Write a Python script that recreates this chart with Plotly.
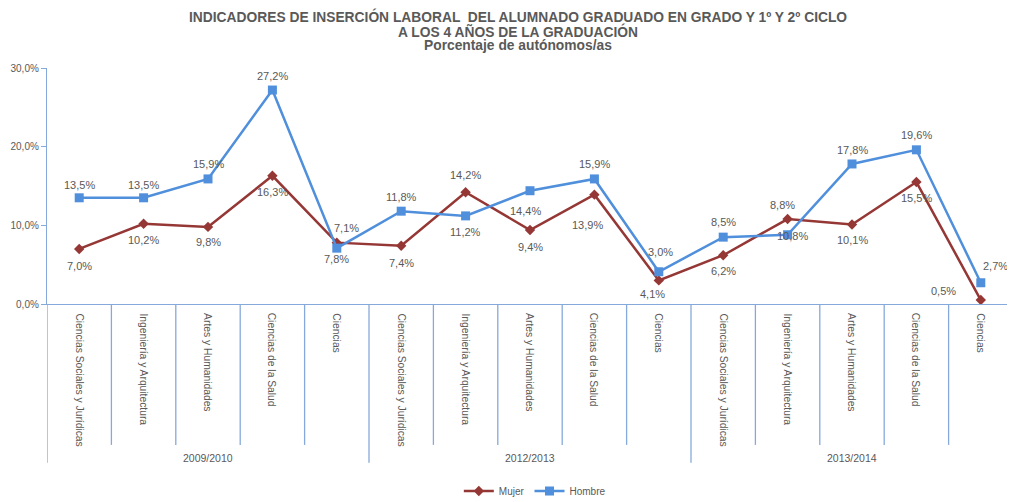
import plotly.graph_objects as go

years = ["2009/2010", "2012/2013", "2013/2014"]
areas = ["Ciencias Sociales y Jurídicas", "Ingeniería y Arquitectura",
         "Artes y Humanidades", "Ciencias de la Salud", "Ciencias"]
mujer = [7.0, 10.2, 9.8, 16.3, 7.8, 7.4, 14.2, 9.4, 13.9, 3.0, 6.2, 10.8, 10.1, 15.5, 0.5]
hombre = [13.5, 13.5, 15.9, 27.2, 7.1, 11.8, 11.2, 14.4, 15.9, 4.1, 8.5, 8.8, 17.8, 19.6, 2.7]
y_ticks = [0, 10, 20, 30]

# label offsets (styling only: px shifts of each data label from its point)
h_off = [(0, 13), (0, 13), (0, 15), (0, 14), (10, 20), (0, 14), (0, -16), (-5, -20),
         (0, 15), (-6, -22), (0, 15), (-5, 30), (0, 14), (0, 15), (15, 17)]
m_off = [(0, -17), (0, -16), (0, -15), (0, -16), (0, -16), (0, -17), (0, 17), (0, -17),
         (-7, -30), (2, 28), (0, -16), (5, -17), (0, -15), (0, -16), (-37, 9)]

cats = [a for _ in years for a in areas]
xs = list(range(len(cats)))

RED = "#953735"
BLUE = "#4F8FDB"
AXIS = "#86A9DB"
GRAY = "#595959"
FONT = "Liberation Sans"

fig = go.Figure()
fig.add_trace(go.Scatter(x=xs, y=mujer, name="Mujer", mode="lines+markers",
                         line=dict(color=RED, width=2.5),
                         marker=dict(symbol="diamond", size=8, color=RED), cliponaxis=False))
fig.add_trace(go.Scatter(x=xs, y=hombre, name="Hombre", mode="lines+markers",
                         line=dict(color=BLUE, width=2.5),
                         marker=dict(symbol="square", size=9, color=BLUE), cliponaxis=False))

def fmt(v):
    return f"{v:.1f}".replace(".", ",") + "%"

ann = []
for i, (v, o) in enumerate(zip(hombre, h_off)):
    ann.append(dict(x=i, y=v, xref="x", yref="y", text=fmt(v), showarrow=False,
                    xshift=o[0], yshift=o[1], font=dict(size=11, color=GRAY, family=FONT)))
for i, (v, o) in enumerate(zip(mujer, m_off)):
    ann.append(dict(x=i, y=v, xref="x", yref="y", text=fmt(v), showarrow=False,
                    xshift=o[0], yshift=o[1], font=dict(size=11, color=GRAY, family=FONT)))

# category labels (rotated)
for i, c in enumerate(cats):
    ann.append(dict(x=i, y=-0.03, xref="x", yref="paper", text=c, textangle=90,
                    showarrow=False, xanchor="center", yanchor="top",
                    font=dict(size=10.3, color=GRAY, family=FONT)))
# group labels
n = len(areas)
for g, yr in enumerate(years):
    ann.append(dict(x=g * n + (n - 1) / 2, y=-0.652, xref="x", yref="paper", text=yr,
                    showarrow=False, xanchor="center", yanchor="middle",
                    font=dict(size=10.5, color=GRAY, family=FONT)))

# title
titles = [("INDICADORES DE INSERCIÓN LABORAL  DEL ALUMNADO GRADUADO EN GRADO Y 1º Y 2º CICLO", 1.217),
          ("A LOS 4 AÑOS DE LA GRADUACIÓN", 1.155),
          ("Porcentaje de autónomos/as", 1.095)]
for t, yy in titles:
    ann.append(dict(x=0.488, y=yy, xref="paper", yref="paper", text=f"<b>{t}</b>",
                    showarrow=False, xanchor="center", yanchor="middle",
                    font=dict(size=13.8, color=GRAY, family=FONT)))

shapes = []
for k in range(len(cats) + 1):
    xb = k - 0.5
    bottom = -0.673 if k % n == 0 else -0.597
    shapes.append(dict(type="line", xref="x", yref="paper", x0=xb, x1=xb, y0=0, y1=bottom,
                       line=dict(color=AXIS, width=1.3)))

# page body has an 8px default margin, so the figure is 8px smaller and offset
fig.update_layout(
    width=1007, height=494,
    margin=dict(l=39, r=2, t=60, b=198, autoexpand=False),
    paper_bgcolor="white", plot_bgcolor="white",
    showlegend=True,
    legend=dict(orientation="h", x=0.505, y=0.0223, yref="container",
                xanchor="center", yanchor="middle",
                font=dict(size=10, color=GRAY, family=FONT), itemwidth=30),
    xaxis=dict(range=[-0.5, len(cats) - 0.5], showticklabels=False, showgrid=False,
               zeroline=False, showline=True, linecolor=AXIS, linewidth=1.3, ticks=""),
    yaxis=dict(range=[0, 30], tickvals=y_ticks, ticktext=[fmt(v) for v in y_ticks],
               showgrid=False, zeroline=False, showline=True, linecolor=AXIS, linewidth=1.3,
               ticks="outside", ticklen=5, tickcolor=AXIS,
               tickfont=dict(size=10, color=GRAY, family=FONT)),
    annotations=ann, shapes=shapes,
)

fig.write_html("out.html")
